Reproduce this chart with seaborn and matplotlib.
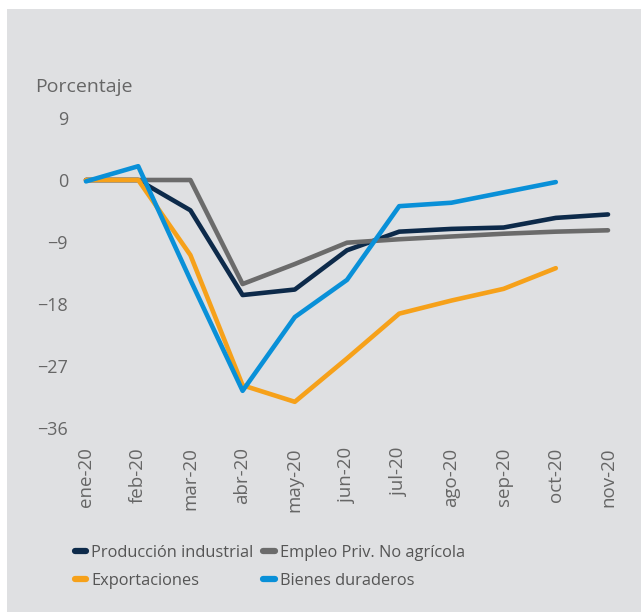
import matplotlib
matplotlib.use("Agg")
import matplotlib.pyplot as plt
from matplotlib.patches import Rectangle
from matplotlib.lines import Line2D
import seaborn as sns
import pandas as pd
import numpy as np

months = ["ene-20", "feb-20", "mar-20", "abr-20", "may-20", "jun-20",
          "jul-20", "ago-20", "sep-20", "oct-20", "nov-20"]
produccion = [0, 0, -4.4, -16.7, -15.9, -10.2, -7.5, -7.1, -6.9, -5.5, -5.0]
empleo = [0, 0, 0, -15.1, -12.2, -9.1, -8.6, -8.2, -7.8, -7.5, -7.3]
exportaciones = [0, 0, -10.9, -29.8, -32.2, -25.9, -19.4, -17.5, -15.8, -12.8, np.nan]
bienes = [-0.2, 2.0, -14.5, -30.6, -19.9, -14.5, -3.8, -3.3, -1.8, -0.3, np.nan]
series_names = ["Producción industrial", "Empleo Priv. No agrícola",
                "Exportaciones", "Bienes duraderos"]
yticks = [9, 0, -9, -18, -27, -36]

colors = ["#0d2a4a", "#6b6b6b", "#f6a11a", "#0990d8"]

df = pd.DataFrame({"mes": list(range(len(months))) * 4,
                   "serie": sum([[n] * len(months) for n in series_names], []),
                   "valor": produccion + empleo + exportaciones + bienes}).dropna()

sns.set_style("white")
plt.rcParams["font.family"] = ["Open Sans", "DejaVu Sans"]

fig = plt.figure(figsize=(6.41, 6.12), dpi=100, facecolor="white")
fig.patches.append(Rectangle((7 / 641, 0), 1, 1 - 9 / 612, transform=fig.transFigure,
                             facecolor="#dfe0e2", edgecolor="none", zorder=-10))
ax = fig.add_axes([86 / 641, 1 - 428 / 612, (608 - 86) / 641, (428 - 118) / 612])
ax.set_facecolor("none")

sns.lineplot(data=df, x="mes", y="valor", hue="serie", hue_order=series_names,
             palette=colors, linewidth=3.3, sort=False, legend=False, ax=ax,
             solid_capstyle="round")
for ln in ax.get_lines():
    ln.set_clip_on(False)

ax.set_xlim(0, len(months) - 1)
ax.set_ylim(-36, 9)
ax.set_yticks(yticks)
ax.set_yticklabels([str(v).replace("-", "\u2212") for v in yticks])
ax.set_xticks(range(len(months)))
ax.set_xticklabels(months, rotation=90)
ax.tick_params(axis="both", length=0, labelcolor="#666666")
ax.tick_params(axis="y", pad=13, labelsize=13)
ax.tick_params(axis="x", pad=14, labelsize=13.5)
ax.set_xlabel("")
ax.set_ylabel("")
for s in ax.spines.values():
    s.set_visible(False)
ax.grid(False)

fig.text(35 / 641, 1 - 87 / 612, "Porcentaje", fontsize=14, color="#666666",
         ha="left", va="center")

order = [0, 2, 1, 3]
handles = [Line2D([0], [0], color=colors[i], linewidth=4.5, solid_capstyle="round") for i in order]
labels = [series_names[i] for i in order]
fig.legend(handles, labels, ncol=2, loc="center", bbox_to_anchor=(270 / 641, 1 - 567 / 612),
           frameon=False, fontsize=11.8, handlelength=0.7, handletextpad=0.3,
           columnspacing=0.6, labelspacing=0.75, labelcolor="#555555")

fig.savefig("out.png", dpi=100, facecolor=fig.get_facecolor())
